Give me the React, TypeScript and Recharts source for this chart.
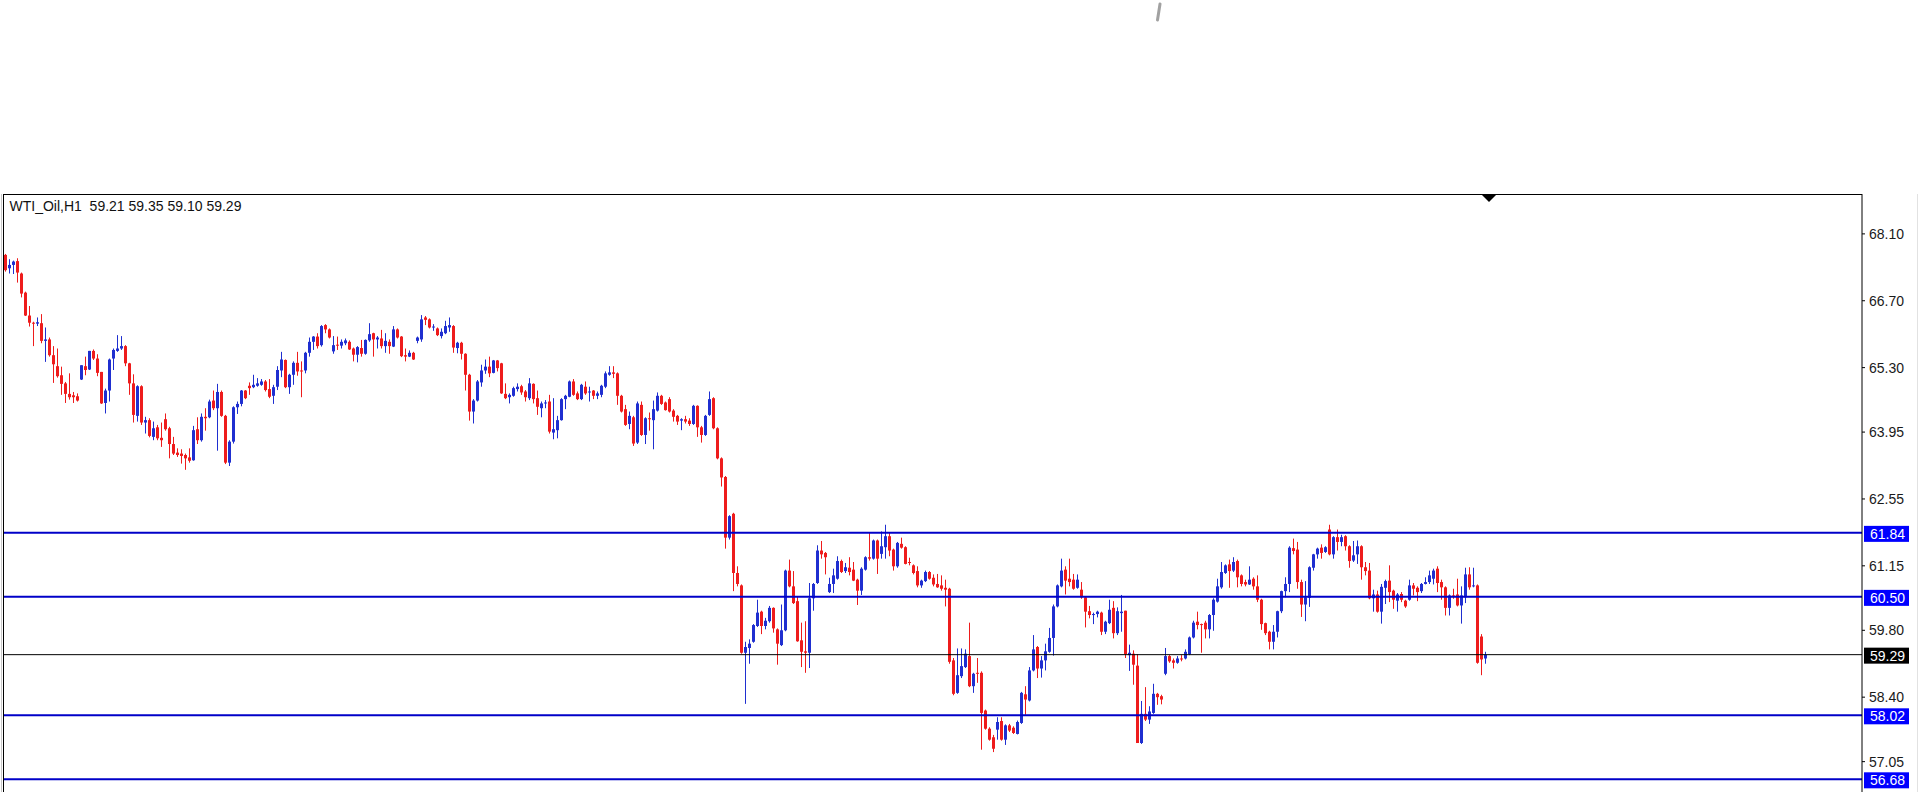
import React from 'react';
import { ComposedChart, Bar, XAxis, YAxis, ReferenceLine } from 'recharts';

// WTI_Oil H1 candles (oldest first)
const opens = [
  67.66, 67.38, 67.45, 67.53, 67.27, 66.87, 66.39, 66.24, 66.22, 66.23, 65.86, 65.89, 65.56, 65.33, 65.14, 64.97, 64.75, 64.72, 64.70, 65.05,
  65.33, 65.26, 65.65, 65.49, 65.21, 64.56, 64.82, 65.49, 65.65, 65.70, 65.75, 65.39, 64.97, 64.29, 64.91, 64.15, 64.20, 63.85, 64.05, 63.83,
  64.22, 64.03, 63.70, 63.52, 63.50, 63.47, 63.42, 63.36, 64.01, 63.78, 64.27, 64.26, 64.61, 64.45, 64.79, 64.29, 63.31, 63.75, 64.47, 64.54,
  64.82, 64.92, 64.89, 64.92, 64.94, 65.01, 64.85, 64.71, 64.90, 65.24, 65.46, 64.89, 65.15, 65.40, 65.24, 65.24, 65.61, 65.84, 65.95, 65.77,
  66.19, 66.10, 65.64, 65.78, 65.76, 65.81, 65.84, 65.70, 65.57, 65.71, 65.59, 65.87, 66.02, 65.89, 65.91, 65.75, 65.84, 65.74, 66.10, 65.95,
  65.56, 65.53, 65.61, 65.86, 65.89, 66.35, 66.31, 66.14, 66.12, 65.96, 66.02, 66.14, 66.17, 65.71, 65.82, 65.59, 65.15, 64.38, 64.61, 64.99,
  65.24, 65.32, 65.19, 65.45, 65.39, 64.75, 64.68, 64.71, 64.85, 64.91, 64.80, 64.66, 64.96, 64.66, 64.45, 64.56, 64.59, 63.94, 63.99, 64.20,
  64.64, 64.69, 65.01, 64.76, 64.64, 64.90, 64.78, 64.82, 64.71, 64.73, 64.90, 65.15, 65.20, 65.18, 64.71, 64.43, 64.12, 64.26, 63.73, 64.52,
  63.89, 64.24, 64.20, 64.40, 64.71, 64.57, 64.64, 64.40, 64.29, 64.19, 64.22, 64.19, 64.12, 64.50, 64.05, 63.89, 64.31, 64.66, 64.03, 63.40,
  63.01, 61.74, 62.24, 61.00, 60.74, 59.33, 59.43, 59.56, 59.89, 60.19, 59.89, 59.99, 60.27, 59.82, 59.49, 59.80, 61.05, 60.72, 60.41, 59.59,
  59.36, 59.33, 60.47, 60.79, 61.47, 61.42, 60.60, 60.77, 60.88, 61.25, 61.04, 61.11, 61.07, 60.86, 60.63, 61.07, 61.33, 61.30, 61.68, 61.40,
  61.54, 61.77, 61.49, 61.14, 61.61, 61.54, 61.23, 61.16, 61.04, 60.74, 60.83, 61.02, 60.90, 60.77, 60.74, 60.69, 60.67, 59.17, 58.49, 58.84,
  59.03, 59.26, 58.63, 58.91, 58.91, 58.12, 57.74, 57.56, 57.72, 57.90, 57.51, 57.81, 57.76, 57.63, 57.86, 58.46, 58.33, 58.96, 59.45, 59.00,
  59.17, 59.35, 59.64, 60.30, 60.72, 61.07, 60.88, 60.86, 60.69, 60.65, 60.49, 60.20, 60.12, 60.14, 60.17, 59.77, 59.95, 60.27, 59.74, 60.16,
  60.21, 59.28, 59.31, 59.06, 57.44, 58.05, 57.93, 58.07, 58.47, 58.42, 58.89, 59.26, 59.17, 59.12, 59.21, 59.21, 59.30, 59.65, 59.98, 59.93,
  59.96, 59.82, 60.12, 60.40, 60.70, 61.00, 61.18, 61.05, 61.25, 60.95, 60.81, 60.76, 60.88, 60.72, 60.44, 59.95, 59.77, 59.56, 59.77, 60.20,
  60.62, 60.77, 61.52, 61.49, 60.81, 60.34, 60.48, 61.11, 61.39, 61.53, 61.44, 61.91, 61.39, 61.75, 61.65, 61.77, 61.56, 61.26, 61.39, 61.56,
  61.12, 61.05, 60.47, 60.55, 60.19, 60.69, 60.84, 60.63, 60.42, 60.56, 60.42, 60.44, 60.74, 60.69, 60.62, 60.77, 60.81, 60.88, 61.09, 60.81,
  60.70, 60.27, 60.53, 60.55, 60.32, 60.49, 60.97, 60.72, 60.74, 59.67, 59.21,
];
const highs = [
  67.68, 67.57, 67.54, 67.59, 67.29, 66.89, 66.59, 66.26, 66.35, 66.42, 66.14, 65.93, 65.75, 65.70, 65.32, 65.00, 65.18, 64.79, 64.76, 65.35,
  65.53, 65.65, 65.68, 65.58, 65.21, 64.86, 65.49, 65.70, 65.98, 65.96, 65.77, 65.40, 65.16, 64.93, 64.93, 64.27, 64.24, 64.17, 64.10, 64.15,
  64.34, 64.06, 63.85, 63.61, 63.59, 63.50, 63.61, 64.08, 64.26, 64.34, 64.45, 64.63, 64.82, 64.96, 64.82, 64.31, 63.78, 64.49, 64.59, 64.83,
  64.83, 64.99, 65.15, 65.08, 65.06, 65.04, 65.06, 64.94, 65.33, 65.63, 65.47, 65.17, 65.43, 65.63, 65.43, 65.63, 65.93, 65.96, 66.02, 66.19,
  66.21, 66.12, 65.96, 65.95, 65.89, 65.91, 65.87, 65.72, 65.75, 65.88, 65.89, 66.23, 66.03, 65.96, 66.09, 66.02, 65.89, 66.17, 66.12, 65.96,
  65.70, 65.66, 65.63, 65.95, 66.40, 66.38, 66.33, 66.21, 66.14, 66.12, 66.28, 66.35, 66.19, 65.84, 65.84, 65.60, 65.17, 64.64, 65.04, 65.36,
  65.47, 65.53, 65.46, 65.46, 65.40, 64.97, 64.76, 64.90, 64.97, 64.94, 64.83, 65.08, 64.97, 64.82, 64.59, 64.62, 64.73, 64.66, 64.29, 64.66,
  64.73, 65.03, 65.06, 64.80, 64.96, 65.01, 64.90, 64.83, 64.80, 64.94, 65.22, 65.33, 65.33, 65.20, 64.73, 64.52, 64.38, 64.29, 64.59, 64.59,
  64.26, 64.36, 64.61, 64.78, 64.73, 64.59, 64.68, 64.43, 64.31, 64.24, 64.29, 64.24, 64.52, 64.51, 64.08, 64.31, 64.80, 64.68, 64.05, 63.42,
  63.03, 62.21, 62.26, 61.14, 60.76, 59.56, 59.61, 59.93, 60.44, 60.21, 60.06, 60.31, 60.28, 59.84, 60.34, 61.07, 61.28, 61.04, 60.51, 59.96,
  59.99, 60.79, 60.79, 61.58, 61.67, 61.44, 60.90, 61.09, 61.35, 61.28, 61.21, 61.33, 61.23, 60.88, 61.12, 61.35, 61.84, 61.70, 61.70, 61.87,
  62.01, 61.84, 61.51, 61.65, 61.74, 61.56, 61.32, 61.18, 61.14, 60.86, 61.05, 61.04, 60.97, 60.98, 60.95, 60.86, 60.69, 59.22, 59.42, 59.42,
  59.40, 59.96, 58.91, 59.22, 58.94, 58.14, 57.77, 57.61, 57.98, 57.98, 57.83, 57.84, 57.79, 57.91, 58.51, 58.63, 59.03, 59.70, 59.47, 59.26,
  59.52, 59.85, 60.34, 60.76, 61.30, 61.14, 61.30, 60.98, 60.97, 60.81, 60.51, 60.31, 60.17, 60.21, 60.19, 60.00, 60.44, 60.41, 60.28, 60.54,
  60.21, 59.50, 59.38, 59.30, 58.32, 58.61, 58.21, 58.68, 58.49, 58.45, 59.43, 59.28, 59.21, 59.26, 59.28, 59.40, 59.67, 60.00, 60.19, 59.94,
  60.00, 60.14, 60.47, 60.88, 61.23, 61.18, 61.28, 61.33, 61.28, 60.97, 60.86, 61.14, 60.91, 60.95, 60.46, 59.96, 59.79, 59.91, 60.21, 60.63,
  60.91, 61.56, 61.72, 61.65, 60.86, 60.83, 61.14, 61.40, 61.53, 61.60, 61.56, 62.01, 61.77, 61.91, 61.80, 61.79, 61.58, 61.67, 61.68, 61.58,
  61.23, 61.21, 60.65, 60.63, 60.77, 60.86, 61.16, 60.65, 60.58, 60.60, 60.44, 60.86, 60.79, 60.72, 60.79, 60.91, 61.05, 61.09, 61.14, 60.86,
  60.72, 60.55, 60.67, 60.88, 60.72, 61.11, 61.12, 61.11, 60.76, 59.72, 59.35,
];
const lows = [
  67.31, 67.27, 67.26, 67.08, 66.77, 66.38, 66.16, 65.75, 66.17, 65.81, 65.42, 65.53, 64.98, 65.09, 64.73, 64.56, 64.63, 64.56, 64.59, 65.04,
  65.14, 65.25, 65.46, 65.12, 64.54, 64.34, 64.59, 65.25, 65.63, 65.67, 65.33, 64.73, 64.15, 64.17, 64.10, 63.92, 63.84, 63.78, 63.78, 63.64,
  63.98, 63.40, 63.47, 63.43, 63.29, 63.16, 63.31, 63.35, 63.70, 63.75, 63.98, 64.24, 64.41, 63.56, 64.27, 63.28, 63.24, 63.71, 64.33, 64.49,
  64.64, 64.73, 64.87, 64.90, 64.92, 64.80, 64.66, 64.54, 64.83, 65.10, 64.87, 64.75, 64.94, 65.13, 64.68, 65.18, 65.53, 65.67, 65.70, 65.74,
  66.02, 65.91, 65.59, 65.67, 65.70, 65.77, 65.67, 65.43, 65.41, 65.53, 65.57, 65.84, 65.53, 65.70, 65.70, 65.61, 65.59, 65.73, 65.91, 65.52,
  65.43, 65.52, 65.46, 65.81, 65.84, 66.19, 66.12, 66.07, 65.96, 65.91, 66.00, 66.05, 65.61, 65.60, 65.47, 64.82, 64.19, 64.13, 64.59, 64.90,
  65.17, 65.10, 65.18, 65.22, 64.75, 64.64, 64.55, 64.69, 64.80, 64.73, 64.59, 64.62, 64.55, 64.31, 64.26, 64.45, 63.92, 63.80, 63.82, 64.19,
  64.43, 64.68, 64.71, 64.62, 64.62, 64.73, 64.59, 64.64, 64.64, 64.68, 64.87, 65.13, 65.08, 64.52, 64.36, 64.08, 64.01, 63.66, 63.70, 63.87,
  63.70, 63.98, 63.59, 64.38, 64.52, 64.40, 64.36, 64.17, 64.10, 63.99, 64.13, 64.08, 64.10, 63.85, 63.73, 63.87, 64.29, 64.01, 63.38, 62.81,
  61.51, 61.70, 60.62, 60.72, 59.31, 58.26, 59.10, 59.54, 59.87, 59.72, 59.82, 59.96, 59.75, 59.08, 59.47, 59.78, 60.70, 60.35, 59.56, 59.03,
  58.91, 59.01, 60.21, 60.77, 61.30, 60.97, 60.58, 60.58, 60.86, 61.00, 61.00, 60.95, 60.83, 60.33, 60.54, 61.05, 61.26, 61.28, 60.98, 61.30,
  61.30, 61.35, 61.05, 61.11, 61.51, 61.18, 61.16, 60.97, 60.70, 60.69, 60.81, 60.86, 60.72, 60.69, 60.63, 60.30, 59.10, 58.44, 58.47, 58.80,
  59.01, 58.61, 58.49, 58.70, 57.30, 57.72, 57.49, 57.25, 57.51, 57.49, 57.40, 57.67, 57.63, 57.62, 57.84, 58.03, 58.31, 58.94, 58.80, 58.81,
  58.96, 59.33, 59.27, 60.28, 60.70, 60.55, 60.72, 60.65, 60.67, 60.46, 59.86, 60.05, 59.93, 60.07, 59.70, 59.72, 59.93, 59.63, 59.70, 59.77,
  59.22, 58.95, 58.66, 57.44, 57.42, 57.90, 57.84, 58.05, 58.24, 58.25, 58.86, 59.12, 59.00, 59.10, 59.15, 59.19, 59.28, 59.63, 59.82, 59.33,
  59.63, 59.63, 59.79, 60.38, 60.67, 60.98, 60.69, 61.02, 60.70, 60.72, 60.72, 60.75, 60.65, 60.39, 59.81, 59.70, 59.40, 59.40, 59.65, 60.16,
  60.49, 60.60, 61.39, 60.67, 60.08, 59.99, 60.29, 61.05, 61.30, 61.30, 61.42, 61.37, 61.30, 61.47, 61.56, 61.47, 61.11, 61.23, 61.19, 60.86,
  60.95, 60.45, 60.19, 60.17, 59.94, 60.35, 60.39, 60.25, 60.19, 60.39, 60.27, 60.42, 60.53, 60.41, 60.58, 60.76, 60.77, 60.76, 60.60, 60.44,
  60.11, 60.11, 60.46, 60.30, 59.94, 60.37, 60.65, 60.70, 59.10, 58.86, 59.10,
];
const closes = [
  67.34, 67.45, 67.52, 67.29, 66.85, 66.39, 66.24, 66.23, 66.25, 65.86, 65.89, 65.56, 65.37, 65.12, 64.96, 64.75, 64.68, 64.68, 64.61, 65.35,
  65.25, 65.65, 65.49, 65.19, 64.55, 64.82, 65.47, 65.67, 65.70, 65.75, 65.39, 64.97, 64.31, 64.91, 64.15, 64.20, 63.87, 64.03, 63.82, 63.78,
  64.01, 63.70, 63.50, 63.47, 63.45, 63.40, 63.35, 63.99, 63.78, 64.27, 64.24, 64.59, 64.45, 64.79, 64.29, 63.31, 63.75, 64.47, 64.54, 64.82,
  64.66, 64.87, 64.94, 64.97, 65.01, 64.83, 64.69, 64.89, 65.25, 65.47, 64.89, 65.15, 65.40, 65.22, 65.22, 65.61, 65.84, 65.95, 65.75, 66.17,
  66.10, 65.93, 65.77, 65.76, 65.84, 65.87, 65.68, 65.57, 65.73, 65.59, 65.88, 66.00, 65.89, 65.93, 65.75, 65.86, 65.75, 66.10, 65.93, 65.54,
  65.53, 65.61, 65.47, 65.93, 66.31, 66.30, 66.14, 66.16, 65.98, 66.05, 66.17, 66.19, 65.72, 65.82, 65.59, 65.15, 64.38, 64.61, 65.01, 65.24,
  65.32, 65.18, 65.45, 65.29, 64.76, 64.66, 64.73, 64.87, 64.90, 64.78, 64.68, 64.97, 64.64, 64.48, 64.55, 64.57, 63.96, 64.01, 64.20, 64.64,
  64.71, 65.01, 64.73, 64.64, 64.94, 64.76, 64.80, 64.71, 64.76, 64.92, 65.18, 65.20, 65.17, 64.71, 64.38, 64.10, 64.29, 63.71, 64.55, 63.89,
  64.24, 64.22, 64.43, 64.71, 64.54, 64.41, 64.38, 64.27, 64.17, 64.22, 64.17, 64.12, 64.50, 64.05, 63.89, 64.29, 64.64, 64.03, 63.40, 63.00,
  61.74, 62.19, 61.00, 60.77, 59.33, 59.45, 59.52, 59.91, 60.17, 59.89, 60.00, 60.27, 59.84, 59.52, 59.80, 61.05, 60.72, 60.37, 59.57, 59.35,
  59.33, 60.47, 60.77, 61.47, 61.39, 61.33, 60.77, 60.95, 61.25, 61.02, 61.12, 61.02, 60.84, 60.63, 61.09, 61.33, 61.30, 61.68, 61.30, 61.56,
  61.77, 61.47, 61.14, 61.63, 61.53, 61.19, 61.21, 61.00, 60.74, 60.84, 61.02, 60.88, 60.76, 60.70, 60.67, 60.65, 59.14, 58.47, 58.86, 59.05,
  59.31, 58.63, 58.89, 58.89, 58.07, 57.74, 57.51, 57.32, 57.88, 57.51, 57.81, 57.70, 57.65, 57.88, 58.49, 58.35, 58.96, 59.40, 59.00, 59.17,
  59.36, 59.64, 60.30, 60.74, 61.05, 60.84, 60.81, 60.67, 60.86, 60.49, 60.19, 60.12, 60.14, 60.19, 59.77, 59.98, 60.23, 59.74, 60.20, 60.19,
  59.30, 59.33, 59.08, 57.44, 58.05, 57.93, 58.10, 58.47, 58.40, 58.35, 59.26, 59.15, 59.12, 59.21, 59.19, 59.35, 59.65, 59.96, 59.91, 59.92,
  59.82, 60.12, 60.44, 60.72, 61.02, 61.16, 61.04, 61.23, 60.91, 60.77, 60.76, 60.86, 60.72, 60.44, 59.93, 59.74, 59.56, 59.77, 60.20, 60.62,
  60.77, 61.53, 61.46, 60.81, 60.34, 60.49, 61.12, 61.39, 61.51, 61.42, 61.54, 61.39, 61.75, 61.65, 61.75, 61.56, 61.25, 61.37, 61.56, 61.12,
  61.04, 60.47, 60.55, 60.19, 60.71, 60.83, 60.60, 60.44, 60.55, 60.44, 60.30, 60.74, 60.67, 60.60, 60.77, 60.81, 60.95, 61.05, 60.79, 60.70,
  60.27, 60.53, 60.51, 60.32, 60.53, 60.97, 60.70, 60.74, 59.12, 59.19, 59.29,
];

const priceTicks = [68.1, 66.7, 65.3, 63.95, 62.55, 61.15, 59.8, 58.4, 57.05];
const levelLines = [61.84, 60.5, 58.02, 56.68];
const lastPrice = 59.29;

const candles = opens.map((o, i) => ({
  i: i + 1,
  o,
  h: highs[i],
  l: lows[i],
  c: closes[i],
  range: [lows[i], highs[i]],
}));

const FONT = '"Liberation Sans", Arial, sans-serif';
const RED = '#ee1c1c';
const BLUE = '#1f2fd0';

const Candle = (props: any) => {
  const { x, y, width, height, payload } = props;
  const { o, h, l, c } = payload;
  const top = Math.min(y, y + height);
  const span = Math.abs(height);
  const k = h > l ? span / (h - l) : 0;
  const cx = Math.floor(x + width / 2) + 0.5;
  const up = c >= o;
  const col = up ? BLUE : RED;
  const bodyTop = top + (h - Math.max(o, c)) * k;
  const bodyH = Math.max(1, Math.abs(o - c) * k);
  return (
    <g>
      <line x1={cx} x2={cx} y1={top} y2={top + span} stroke={col} strokeWidth={1} />
      <rect x={cx - 1.5} y={bodyTop} width={3} height={bodyH} fill={col} />
    </g>
  );
};

const PriceTick = (props: any) => {
  const { x, y, payload } = props;
  return (
    <text x={x} y={y} dy={5} fontSize={14} fontFamily={FONT} fill="#1a1a1a" textAnchor="start">
      {Number(payload.value).toFixed(2)}
    </text>
  );
};

const tag = (value: number, bg: string) => (props: any) => {
  const vb = props.viewBox || {};
  const left = vb.x + vb.width + 2;
  return (
    <g>
      <rect x={left} y={vb.y - 7} width={45} height={16} fill={bg} />
      <text x={left + 6} y={vb.y + 6} fontSize={14} fontFamily={FONT} fill="#fff">
        {value.toFixed(2)}
      </text>
    </g>
  );
};

export default function App() {
  return (
    <div style={{ position: 'absolute', left: 0, top: 0, width: 1920, height: 792, overflow: 'hidden', background: '#fff' }}>
      <ComposedChart
        width={1920}
        height={860}
        data={candles}
        margin={{ top: 194, right: 0, left: 3, bottom: 10 }}
      >
        <XAxis dataKey="i" type="number" domain={[0.375, 465.125]} hide allowDataOverflow />
        <YAxis
          orientation="right"
          width={58}
          domain={[55.2, 68.935]}
          allowDataOverflow
          ticks={priceTicks}
          interval={0}
          tick={<PriceTick />}
          tickSize={3}
          tickMargin={4}
          axisLine={{ stroke: '#000' }}
          tickLine={{ stroke: '#000' }}
        />
        {levelLines.map((v) => (
          <ReferenceLine key={v} y={v} stroke="#0000c8" strokeWidth={2} label={{ content: tag(v, '#0000ff') }} />
        ))}
        <ReferenceLine y={lastPrice} stroke="#000" strokeWidth={1} label={{ content: tag(lastPrice, '#000') }} />
        <Bar dataKey="range" barSize={3} shape={<Candle />} isAnimationActive={false} />
      </ComposedChart>
      <svg width={1920} height={792} style={{ position: 'absolute', left: 0, top: 0, pointerEvents: 'none' }}>
        <line x1={1.5} x2={1.5} y1={194} y2={792} stroke="#c8c8c8" />
        <line x1={3.5} x2={3.5} y1={194} y2={792} stroke="#000" />
        <line x1={3} x2={1862} y1={194.5} y2={194.5} stroke="#000" />
        <line x1={1917.5} x2={1917.5} y1={194} y2={792} stroke="#e2e2e2" />
        <polygon points="1482,195 1496,195 1489,202" fill="#000" />
        <line x1={1160} y1={4} x2={1157.5} y2={20} stroke="#8a8a8a" strokeWidth={3} strokeLinecap="round" opacity={0.8} />
        <text x={9.5} y={210.5} fontSize={14} fontFamily={FONT} fill="#111" style={{ whiteSpace: 'pre' }}>
          {'WTI_Oil,H1  59.21 59.35 59.10 59.29'}
        </text>
      </svg>
    </div>
  );
}
